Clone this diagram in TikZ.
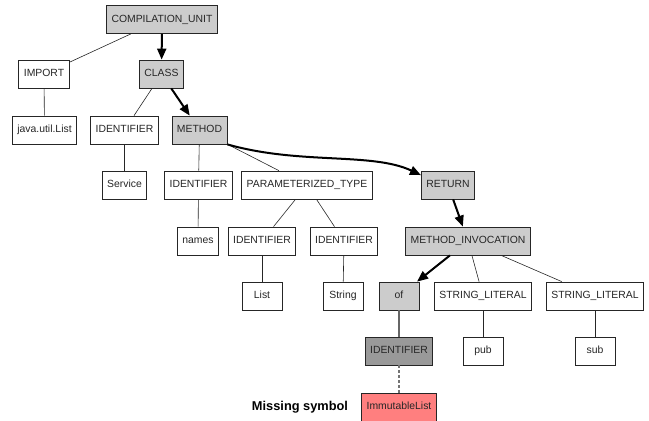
\documentclass[tikz,border=0pt]{standalone}
\usepackage{fontspec}
\setmainfont{Liberation Sans}
\usetikzlibrary{calc, arrows.meta, positioning}
\definecolor{hlgray}{HTML}{CCCCCC}
\definecolor{symgray}{HTML}{999999}
\definecolor{missred}{HTML}{FF7F7F}
\tikzset{
    box/.style = {rectangle, draw=black!85, line width=0.8pt, fill=white, minimum height=28pt, minimum width=40pt, inner xsep=5pt, text height=7.6pt, text depth=2.2pt, text=black!85, font=\fontsize{10.4}{12}\selectfont}, % plain tree node
    hl/.style = {box, fill=hlgray}, % node on the traced path
    sym/.style = {box, fill=symgray},
    miss/.style = {box, fill=missred},
    link/.style = {line width=0.6pt, black!85},
    trace/.style = {line width=2pt, black, -{Triangle[length=11pt,width=9pt]}},
    idlink/.style = {line width=1.6pt, black!60},
    missing/.style = {line width=1.4pt, black!55, dash pattern=on 3pt off 2pt}
}
\begin{document}
\begin{tikzpicture}[x=1pt, y=-1pt]
        \useasboundingbox (0,0) rectangle (649,421);

        %nodes

        \node[hl] (CU) at (162,19.5) {COMPILATION\_UNIT};
        \node[box] (IMP) at (44,74) {IMPORT};
        \node[hl] (CLS) at (161.5,74) {CLASS};
        \node[box] (JUL) at (44.5,130) {java.util.List};
        \node[box] (ID1) at (124.5,130) {IDENTIFIER};
        \node[hl] (MTH) at (199.5,130) {METHOD};
        \node[box] (SRV) at (124.5,185) {Service};
        \node[box] (ID2) at (198.5,185) {IDENTIFIER};
        \node[box] (PT) at (307,185) {PARAMETERIZED\_TYPE};
        \node[hl] (RET) at (448,185) {RETURN};
        \node[box] (NMS) at (198,241) {names};
        \node[box] (ID3) at (262,241) {IDENTIFIER};
        \node[box] (ID4) at (344,241) {IDENTIFIER};
        \node[hl] (MI) at (468,241) {METHOD\_INVOCATION};
        \node[box] (LST) at (262,296) {List};
        \node[box] (STR) at (343,296) {String};
        \node[hl] (OF) at (399,296) {of};
        \node[box] (SL1) at (483,296) {STRING\_LITERAL};
        \node[box] (SL2) at (595,296) {STRING\_LITERAL};
        \node[sym] (ID5) at (399,351) {IDENTIFIER};
        \node[box] (PUB) at (483,351) {pub};
        \node[box] (SUB) at (595,351) {sub};
        \node[miss] (IML) at (399,407) {ImmutableList};
        \node[font=\fontsize{12.8}{14}\selectfont\bfseries] (LBL) at (300,407) {Missing symbol};

        %edges

        \draw[link] (CU) -- (IMP);
        \draw[link] (IMP) -- (JUL);
        \draw[link] (CLS) -- (ID1);
        \draw[link] (ID1) -- (SRV);
        \draw[link] (MTH) -- (ID2);
        \draw[link] (MTH) -- (PT);
        \draw[link] (ID2) -- (NMS);
        \draw[link] (PT) -- (ID3);
        \draw[link] (PT) -- (ID4);
        \draw[link] (ID3) -- (LST);
        \draw[link] (ID4) -- (STR);
        \draw[link] (MI) -- (SL1);
        \draw[link] (MI) -- (SL2);
        \draw[link] (SL1) -- (PUB);
        \draw[link] (SL2) -- (SUB);
        \draw[idlink] (OF) -- (ID5);
        \draw[missing] (ID5) -- (IML);

        %traced path

        \draw[trace] (CU) -- (CLS);
        \draw[trace] (CLS) -- (MTH);
        \draw[trace] (MTH.south east) .. controls (300,165) and (372,152) .. ($(RET.north west)+(0,4.5)$);
        \draw[trace] (RET) -- (MI);
        \draw[trace] (MI) -- (OF);
    \end{tikzpicture}
\end{document}
